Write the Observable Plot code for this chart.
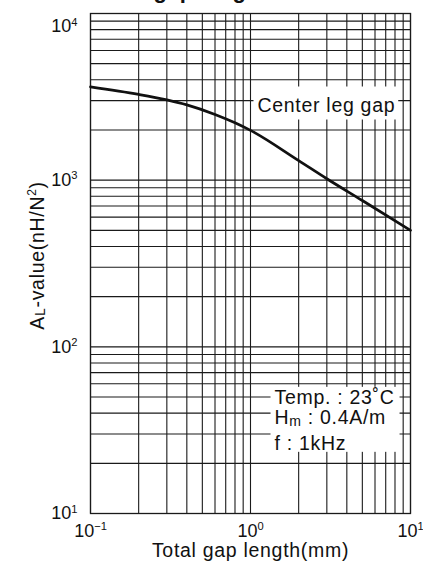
<!DOCTYPE html>
<html><head><meta charset="utf-8">
<script src="https://cdn.jsdelivr.net/npm/d3@7"></script>
<script src="https://cdn.jsdelivr.net/npm/@observablehq/plot@0.6"></script>
<style>body{margin:0;background:#fff}#chart svg{display:block}</style>
</head><body><div id="chart"></div>
<script>
// ---- data ----
const gapLength = [0.1, 0.2, 0.3, 0.4, 0.6, 0.8, 1, 2, 3, 5, 10];
const alValue   = [3630, 3270, 3030, 2830, 2480, 2210, 1990, 1310, 1020, 755, 500];
const xGrid = [0.1,0.2,0.3,0.4,0.5,0.6,0.7,0.8,0.9,1,2,3,4,5,6,7,8,9,10];
const yGrid = [10,20,30,40,50,60,70,80,90,100,200,300,400,500,600,700,800,900,1000,2000,3000,4000,5000,6000,7000,8000,9000,10000];
const xTicks = [0.1, 1, 10];
const xTickLabels = ["10{^−1}", "10{^0}", "10{^1}"];
const yTicks = [10, 100, 1000, 10000];
const yTickLabels = ["10{^1}", "10{^2}", "10{^3}", "10{^4}"];
const titleText = "Total gap length vs. AL-value";
const xLabel = "Total gap length(mm)";
const yLabel = "A{_L}-value(nH/N{^2})";
const curveLabel = "Center leg gap";
const conditions = ["Temp. : 23˚C", "H{_m} : 0.4A/m", "f : 1kHz"];

const font = "'Liberation Sans', Arial, Helvetica, sans-serif";
const tickStyle = {fontSize: 18, fill: "#111"};
const labStyle = {fontSize: 19.5, fill: "#111"};

const rows = gapLength.map((x, i) => ({x, y: alValue[i]}));

const plot = Plot.plot({
  width: 423, height: 564,
  marginLeft: 90, marginRight: 13, marginTop: 13, marginBottom: 51,
  style: {fontFamily: font, background: "#fff"},
  x: {type: "log", domain: [0.1, 10], axis: null},
  y: {type: "log", domain: [10, 10000], axis: null},
  marks: [
    Plot.ruleX(xGrid, {x: d => d, stroke: "#1a1a1a", strokeWidth: 1.1}),
    Plot.ruleY(yGrid, {y: d => d, stroke: "#1a1a1a", strokeWidth: 1.1}),
    Plot.frame({stroke: "#1a1a1a", strokeWidth: 1.3}),
    Plot.line(rows, {x: "x", y: "y", curve: "monotone-x", stroke: "#111", strokeWidth: 2.7}),
    Plot.text([curveLabel], {x: () => 1.106, y: () => 2547, text: d => d, textAnchor: "start", lineAnchor: "bottom", ...labStyle}),
    Plot.text([conditions[0]], {x: () => 1.413, y: () => 45.5, text: d => d, textAnchor: "start", lineAnchor: "bottom", ...labStyle}),
    Plot.text([conditions[1]], {x: () => 1.413, y: () => 34.5, text: d => d, textAnchor: "start", lineAnchor: "bottom", ...labStyle}),
    Plot.text([conditions[2]], {x: () => 1.413, y: () => 24.1, text: d => d, textAnchor: "start", lineAnchor: "bottom", ...labStyle}),
    // tick labels
    Plot.text(xTicks, {x: d => d, text: (d, i) => xTickLabels[i], frameAnchor: "bottom", lineAnchor: "bottom", textAnchor: "middle", dy: 23, ...tickStyle}),
    Plot.text(yTicks, {y: d => d, text: (d, i) => yTickLabels[i], filter: d => d < 10000, frameAnchor: "left", lineAnchor: "middle", textAnchor: "end", dx: -13, ...tickStyle}),
    Plot.text(yTicks, {y: d => d, text: (d, i) => yTickLabels[i], filter: d => d === 10000, frameAnchor: "left", lineAnchor: "middle", textAnchor: "end", dx: -13, dy: 13, ...tickStyle}),
    // axis labels
    Plot.text([xLabel], {text: d => d, frameAnchor: "bottom", lineAnchor: "bottom", textAnchor: "middle", dy: 43.5, ...labStyle}),
    Plot.text([yLabel], {text: d => d, frameAnchor: "left", rotate: -90, lineAnchor: "bottom", textAnchor: "middle", dx: -47, dy: -8, ...labStyle}),
    // title (mostly cropped by the top edge, as in the reference)
    Plot.text([titleText], {text: d => d, frameAnchor: "top", lineAnchor: "bottom", textAnchor: "middle", dy: -16, fontSize: 22, fontWeight: "bold", fill: "#111"})
  ]
});

document.getElementById("chart").append(plot);

// letter spacing for the word labels
const wordTexts = [curveLabel, ...conditions, xLabel, yLabel, titleText];
d3.select(plot).selectAll("text").each(function() {
  if (wordTexts.includes(this.textContent)) this.setAttribute("letter-spacing", this.textContent === titleText ? "0.3" : "0.7");
});

// white boxes behind annotations (grid interrupted), sized from the text
function boxBehind(matchList, pad) {
  const svgRect = plot.getBoundingClientRect();
  const els = [];
  d3.select(plot).selectAll("text").each(function() { if (matchList.includes(this.textContent)) els.push(this); });
  if (!els.length) return;
  let x0 = Infinity, y0 = Infinity, x1 = -Infinity, y1 = -Infinity;
  for (const e of els) {
    const r = e.getBoundingClientRect();
    x0 = Math.min(x0, r.left - svgRect.left); y0 = Math.min(y0, r.top - svgRect.top);
    x1 = Math.max(x1, r.right - svgRect.left); y1 = Math.max(y1, r.bottom - svgRect.top);
  }
  const g = els[0].closest("g");
  const rect = document.createElementNS("http://www.w3.org/2000/svg", "rect");
  rect.setAttribute("x", x0 - pad[3]); rect.setAttribute("y", y0 - pad[0]);
  rect.setAttribute("width", x1 - x0 + pad[1] + pad[3]); rect.setAttribute("height", y1 - y0 + pad[0] + pad[2]);
  rect.setAttribute("fill", "#fff");
  g.parentNode.insertBefore(rect, g);
}
// rich text: {^x} superscript, {_x} subscript
function rich() {
  d3.select(plot).selectAll("text").each(function() {
    const t = this.textContent;
    if (!/\{[\^_]/.test(t)) return;
    const fs = parseFloat(getComputedStyle(this).fontSize) || 18;
    const parts = t.split(/(\{[\^_][^}]*\})/).filter(s => s);
    this.textContent = "";
    let shift = 0;
    for (const p of parts) {
      const m = p.match(/^\{([\^_])(.*)\}$/);
      const ts = d3.select(this).append("tspan");
      if (m) {
        const up = m[1] === "^";
        const d = up ? -0.36 * fs : 0.1 * fs;
        ts.attr("dy", d - shift).attr("font-size", (up ? 0.62 : 0.72) * fs).text(m[2]);
        shift = d;
      } else {
        if (shift) ts.attr("dy", -shift);
        shift = 0;
        ts.text(p);
      }
    }
  });
}
rich();
boxBehind([curveLabel], [8, 3, 3, 4]);
boxBehind(["Temp. : 23˚C", "Hm : 0.4A/m", "f : 1kHz"], [-1, 5, -2, 4]);
</script>
</body></html>
